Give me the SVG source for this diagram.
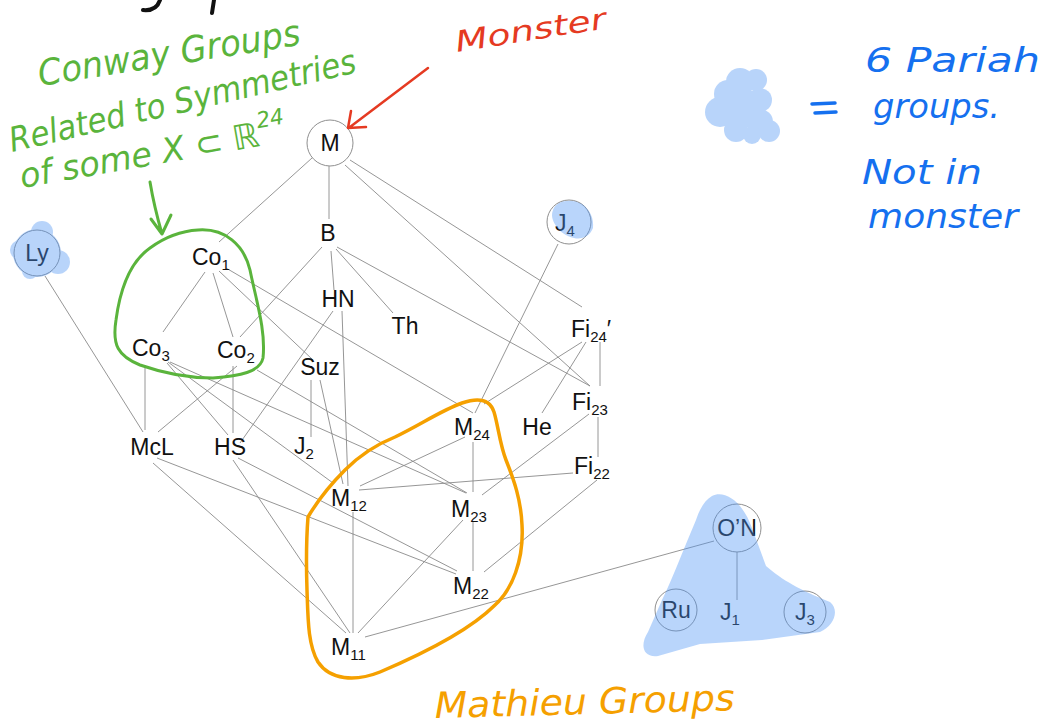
<svg xmlns="http://www.w3.org/2000/svg" width="1047" height="727" viewBox="0 0 1047 727">
<style>
.e{stroke:#8a8a8a;stroke-width:0.9;fill:none}
.c{fill:#fff;stroke:#8f8f8f;stroke-width:1}
.t{font-family:"Liberation Sans",Arial,sans-serif;font-size:23px;fill:#111}
.s{font-size:15px}
.hand{font-family:"DejaVu Sans","Noto Sans",sans-serif;font-style:italic}
.hl{fill:#5096f5}
</style>
<rect width="1047" height="727" fill="#fff"/>

<!-- connectors -->
<g id="connectors" class="e">
<line x1="312" y1="158" x2="219" y2="242"/>
<line x1="329" y1="166" x2="329" y2="219"/>
<line x1="350" y1="160" x2="582" y2="307"/>
<line x1="345" y1="165" x2="590" y2="386"/>
<line x1="322" y1="247" x2="240" y2="337"/>
<line x1="331" y1="251" x2="334" y2="290"/>
<line x1="336" y1="249" x2="393" y2="313"/>
<line x1="337" y1="247" x2="590" y2="386"/>
<line x1="205" y1="272" x2="163" y2="332"/>
<line x1="213" y1="273" x2="233" y2="337"/>
<line x1="219" y1="271" x2="313" y2="360"/>
<line x1="226" y1="268" x2="473" y2="413"/>
<line x1="45" y1="276" x2="143" y2="432"/>
<line x1="558" y1="244" x2="475" y2="413"/>
<line x1="333" y1="311" x2="240" y2="443"/>
<line x1="342" y1="311" x2="348" y2="486"/>
<line x1="582" y1="342" x2="484" y2="404"/>
<line x1="586" y1="342" x2="542" y2="413"/>
<line x1="600" y1="342" x2="600" y2="386"/>
<line x1="598" y1="417" x2="598" y2="457"/>
<line x1="589" y1="414" x2="482" y2="495"/>
<line x1="573" y1="473" x2="359" y2="490"/>
<line x1="597" y1="480" x2="484" y2="572"/>
<line x1="145" y1="365" x2="145" y2="430"/>
<line x1="167" y1="363" x2="228" y2="435"/>
<line x1="168" y1="362" x2="333" y2="483"/>
<line x1="170" y1="362" x2="466" y2="493"/>
<line x1="237" y1="366" x2="158" y2="432"/>
<line x1="233" y1="366" x2="233" y2="433"/>
<line x1="257" y1="370" x2="467" y2="493"/>
<line x1="311" y1="380" x2="311" y2="437"/>
<line x1="320" y1="380" x2="343" y2="484"/>
<line x1="465" y1="437" x2="360" y2="486"/>
<line x1="473" y1="442" x2="473" y2="492"/>
<line x1="353" y1="512" x2="353" y2="633"/>
<line x1="473" y1="522" x2="473" y2="571"/>
<line x1="463" y1="520" x2="358" y2="633"/>
<line x1="157" y1="458" x2="456" y2="574"/>
<line x1="153" y1="463" x2="346" y2="633"/>
<line x1="238" y1="458" x2="457" y2="571"/>
<line x1="233" y1="460" x2="350" y2="633"/>
<line x1="365" y1="637" x2="714" y2="541"/>
<line x1="737" y1="552" x2="737" y2="600"/>
</g>

<!-- nodes -->
<g id="n-M"><circle class="c" cx="330" cy="143" r="23"/><text class="t" x="330" y="151" text-anchor="middle">M</text></g>
<g id="n-B"><text class="t" x="328" y="241" text-anchor="middle">B</text></g>
<g id="n-Co1"><text class="t" x="192" y="265">Co<tspan class="s" dy="5">1</tspan></text></g>
<g id="n-Ly"><circle class="c" cx="37" cy="253" r="23"/><text class="t" x="37" y="261" text-anchor="middle">Ly</text></g>
<g id="n-J4"><circle class="c" cx="569" cy="222" r="22"/><text class="t" x="555" y="231">J<tspan class="s" dy="5">4</tspan></text></g>
<g id="n-HN"><text class="t" x="338" y="307" text-anchor="middle">HN</text></g>
<g id="n-Th"><text class="t" x="405" y="334" text-anchor="middle">Th</text></g>
<g id="n-Fi24p"><text class="t" x="571" y="337">Fi<tspan class="s" dy="5">24</tspan><tspan dy="-5">′</tspan></text></g>
<g id="n-Co3"><text class="t" x="132" y="356">Co<tspan class="s" dy="5">3</tspan></text></g>
<g id="n-Co2"><text class="t" x="217" y="358">Co<tspan class="s" dy="5">2</tspan></text></g>
<g id="n-Suz"><text class="t" x="320" y="375" text-anchor="middle">Suz</text></g>
<g id="n-Fi23"><text class="t" x="572" y="410">Fi<tspan class="s" dy="5">23</tspan></text></g>
<g id="n-M24"><text class="t" x="454" y="435">M<tspan class="s" dy="5">24</tspan></text></g>
<g id="n-He"><text class="t" x="537" y="435" text-anchor="middle">He</text></g>
<g id="n-McL"><text class="t" x="152" y="455" text-anchor="middle">McL</text></g>
<g id="n-HS"><text class="t" x="230" y="455" text-anchor="middle">HS</text></g>
<g id="n-J2"><text class="t" x="294" y="454">J<tspan class="s" dy="5">2</tspan></text></g>
<g id="n-Fi22"><text class="t" x="574" y="474">Fi<tspan class="s" dy="5">22</tspan></text></g>
<g id="n-M12"><text class="t" x="331" y="506">M<tspan class="s" dy="5">12</tspan></text></g>
<g id="n-M23"><text class="t" x="451" y="517">M<tspan class="s" dy="5">23</tspan></text></g>
<g id="n-M22"><text class="t" x="453" y="594">M<tspan class="s" dy="5">22</tspan></text></g>
<g id="n-M11"><text class="t" x="331" y="655">M<tspan class="s" dy="5">11</tspan></text></g>
<g id="n-ON"><circle class="c" cx="737" cy="528" r="24"/><text class="t" x="737" y="536" text-anchor="middle">O’N</text></g>
<g id="n-Ru"><circle class="c" cx="676" cy="610" r="21"/><text class="t" x="676" y="618" text-anchor="middle">Ru</text></g>
<g id="n-J1"><text class="t" x="720" y="620">J<tspan class="s" dy="5">1</tspan></text></g>
<g id="n-J3"><circle class="c" cx="805" cy="612" r="21"/><text class="t" x="795" y="620">J<tspan class="s" dy="5">3</tspan></text></g>

<!-- highlights -->
<g id="highlights">
<g class="hl" opacity="0.4">
<circle cx="37" cy="253" r="24"/><circle cx="42" cy="232" r="11"/><circle cx="58" cy="262" r="12"/><circle cx="20" cy="250" r="10"/><circle cx="30" cy="271" r="8"/>
</g>
<g class="hl" opacity="0.4"><path d="M553,210 C556,200 572,198 582,204 C590,210 594,218 593,228 C590,236 582,240 574,238 C566,236 560,232 556,226 C552,220 551,215 553,210 Z"/></g>
<g class="hl" opacity="0.4">
<circle cx="740" cy="82" r="14"/><circle cx="756" cy="80" r="11"/><circle cx="728" cy="94" r="14"/><circle cx="720" cy="112" r="15"/><circle cx="742" cy="108" r="20"/><circle cx="760" cy="100" r="12"/><circle cx="760" cy="122" r="13"/><circle cx="769" cy="131" r="11"/><circle cx="736" cy="130" r="12"/><circle cx="752" cy="135" r="9"/>
</g>
<g class="hl" opacity="0.4">
<path d="M712,496 C724,490 742,500 752,528 L766,566 C782,580 800,590 830,602 C840,610 834,626 820,632 L762,640 L700,644 L658,656 C642,658 640,644 648,632 L662,600 C672,580 684,548 696,520 C700,508 705,500 712,496 Z"/>
</g>
</g>

<!-- annotations -->
<g id="annotations" class="hand">
<g fill="#5ab43c">
<text transform="translate(40,86) rotate(-9)" font-size="36" textLength="265" lengthAdjust="spacingAndGlyphs">Conway Groups</text>
<text transform="translate(12,152) rotate(-13)" font-size="34" textLength="355" lengthAdjust="spacingAndGlyphs">Related to Symmetries</text>
<text transform="translate(22,188) rotate(-10)" font-size="34" textLength="270" lengthAdjust="spacingAndGlyphs">of some X ⊂ ℝ<tspan font-size="22" dy="-18">24</tspan></text>
</g>
<text transform="translate(457,52) rotate(-9)" font-size="29" fill="#e53a22" textLength="152" lengthAdjust="spacingAndGlyphs">Monster</text>
<text transform="translate(435,718) rotate(-1.5)" font-size="36" fill="#f5a000" textLength="300" lengthAdjust="spacingAndGlyphs">Mathieu Groups</text>
<g fill="#1570ef">
<text x="865" y="72" font-size="34" textLength="175" lengthAdjust="spacingAndGlyphs">6 Pariah</text>
<text x="873" y="118" font-size="34" textLength="127" lengthAdjust="spacingAndGlyphs">groups.</text>
<text x="862" y="184" font-size="34" textLength="120" lengthAdjust="spacingAndGlyphs">Not in</text>
<text x="868" y="228" font-size="34" textLength="150" lengthAdjust="spacingAndGlyphs">monster</text>
</g>
</g>

<g id="marks" fill="none" stroke-linecap="round" stroke-linejoin="round">
<path d="M160,0 C158,6 153,11 143,10 M214,0 L212,13" stroke="#111" stroke-width="4"/>
<path d="M812,104 L835,103 M815,113 L836,112" stroke="#1570ef" stroke-width="3.5"/>
<path d="M428,68 L350,127 M351,111 L348,128 L366,127" stroke="#e53a22" stroke-width="2.5"/>
<path d="M150,182 C153,200 158,220 162,234 M151,219 L162,234 L171,215" stroke="#5ab43c" stroke-width="3"/>
<path d="M198,230 C225,228 244,245 250,270 C256,300 266,330 263,358 C260,372 240,376 213,378 C185,378 160,372 140,365 C118,356 112,345 116,320 C120,290 130,262 150,248 C165,237 180,231 198,230 Z" stroke="#5ab43c" stroke-width="3"/>
<path d="M462,403 C480,397 490,400 494,412 C498,425 500,445 506,460 C514,480 521,500 522,525 C524,560 512,590 495,605 C470,630 420,655 380,672 C355,682 330,680 318,662 C308,645 308,620 307,590 C306,560 307,530 308,517 C318,500 330,485 345,470 C360,455 375,445 395,437 C420,425 442,410 462,403 Z" stroke="#f5a000" stroke-width="3.5"/>
</g>
</svg>
